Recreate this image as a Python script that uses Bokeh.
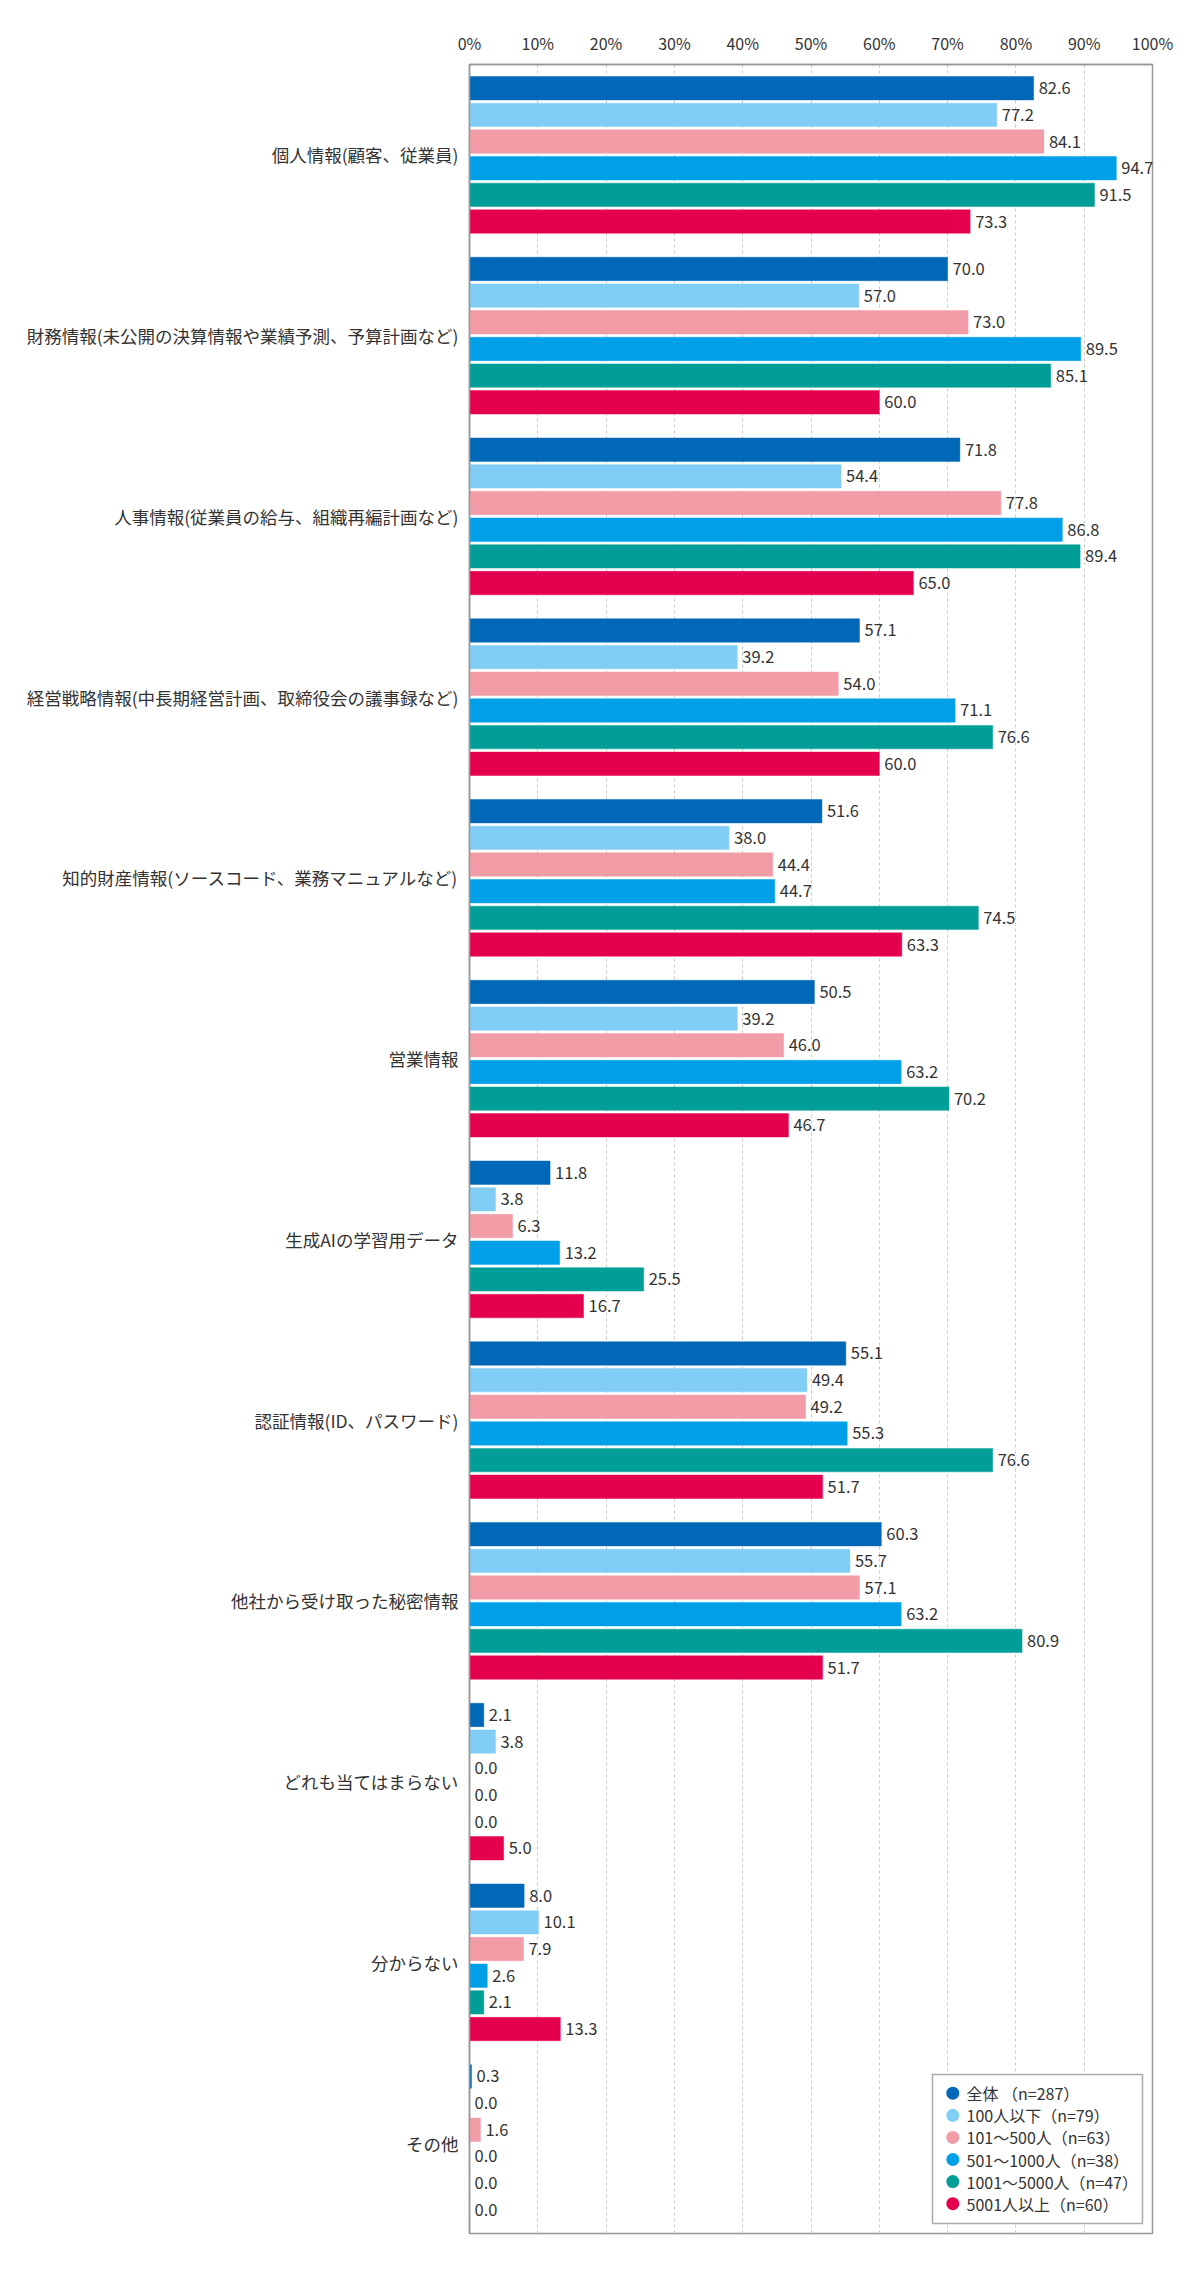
from bokeh.plotting import figure
from bokeh.models import ColumnDataSource, FixedTicker, Range1d, PrintfTickFormatter
from bokeh.core.properties import value
from bokeh.embed import file_html
from bokeh.resources import INLINE

# ---------------- data ----------------
categories = [
    "個人情報(顧客、従業員)",
    "財務情報(未公開の決算情報や業績予測、予算計画など)",
    "人事情報(従業員の給与、組織再編計画など)",
    "経営戦略情報(中長期経営計画、取締役会の議事録など)",
    "知的財産情報(ソースコード、業務マニュアルなど)",
    "営業情報",
    "生成AIの学習用データ",
    "認証情報(ID、パスワード)",
    "他社から受け取った秘密情報",
    "どれも当てはまらない",
    "分からない",
    "その他",
]
series_names = [
    "全体 （n=287）",
    "100人以下（n=79）",
    "101～500人（n=63）",
    "501～1000人（n=38）",
    "1001～5000人（n=47）",
    "5001人以上（n=60）",
]
series_colors = ["#0068b7", "#80cdf5", "#f19ca7", "#00a0e9", "#009e96", "#e5004f"]

zentai     = [82.6, 70.0, 71.8, 57.1, 51.6, 50.5, 11.8, 55.1, 60.3, 2.1, 8.0, 0.3]
upto100    = [77.2, 57.0, 54.4, 39.2, 38.0, 39.2, 3.8, 49.4, 55.7, 3.8, 10.1, 0.0]
r101_500   = [84.1, 73.0, 77.8, 54.0, 44.4, 46.0, 6.3, 49.2, 57.1, 0.0, 7.9, 1.6]
r501_1000  = [94.7, 89.5, 86.8, 71.1, 44.7, 63.2, 13.2, 55.3, 63.2, 0.0, 2.6, 0.0]
r1001_5000 = [91.5, 85.1, 89.4, 76.6, 74.5, 70.2, 25.5, 76.6, 80.9, 0.0, 2.1, 0.0]
over5001   = [73.3, 60.0, 65.0, 60.0, 63.3, 46.7, 16.7, 51.7, 51.7, 5.0, 13.3, 0.0]
series_values = [zentai, upto100, r101_500, r501_1000, r1001_5000, over5001]

x_ticks = [0, 10, 20, 30, 40, 50, 60, 70, 80, 90, 100]

# ---------------- layout ----------------
FONT = "Noto Sans CJK JP"
W, H = 1192, 2271
ML, MR, MT, MB = 469, 40, 64, 38
FW = W - ML - MR
FH = H - MT - MB
n_cat = len(categories)
px_y = FH / n_cat            # pixels per group unit
px_x = FW / 100.0            # pixels per percent
pitch = 26.67 / px_y
bar_h = 23.4 / px_y

p = figure(width=W, height=H, output_backend="svg", toolbar_location=None,
           x_range=Range1d(0, 100), y_range=Range1d(n_cat, 0),
           x_axis_location="above", min_border_left=ML, min_border_right=MR,
           min_border_top=MT, min_border_bottom=MB)
p.outline_line_color = "#999999"
p.outline_line_width = 1.5
p.background_fill_color = "white"
p.border_fill_color = "white"

# x axis (top)
xa = p.xaxis[0]
xa.ticker = FixedTicker(ticks=x_ticks)
xa.formatter = PrintfTickFormatter(format="%d%%")
xa.major_tick_line_color = None
xa.minor_tick_line_color = None
xa.axis_line_color = "#999999"
xa.axis_line_width = 1.5
xa.major_label_text_font = FONT
xa.major_label_text_font_size = "16px"
xa.major_label_text_color = "#333333"
xa.major_label_standoff = 4

# y axis (categories)
ya = p.yaxis[0]
centers = [i + 0.5 for i in range(n_cat)]
ya.ticker = FixedTicker(ticks=centers)
ya.major_label_overrides = {c: lab for c, lab in zip(centers, categories)}
ya.major_tick_line_color = None
ya.minor_tick_line_color = None
ya.axis_line_color = "#999999"
ya.axis_line_width = 1.5
ya.major_label_text_font = FONT
ya.major_label_text_font_size = "17.5px"
ya.major_label_text_color = "#333333"
ya.major_label_standoff = 5

p.ygrid.visible = False
p.xgrid.ticker = FixedTicker(ticks=x_ticks)
p.xgrid.grid_line_color = "#c8c8c8"
p.xgrid.grid_line_dash = "3 3"
p.xgrid.grid_line_width = 1

# bars + value labels
for j, (vals, col) in enumerate(zip(series_values, series_colors)):
    ys = [i + 0.5 + (j - 2.5) * pitch for i in range(n_cat)]
    src = ColumnDataSource(dict(y=ys, v=vals, lab=[f"{v:.1f}" for v in vals]))
    p.hbar(y="y", left=0, right="v", height=bar_h, source=src,
           fill_color=col, line_color=col, line_alpha=0.45, line_width=1)
    p.text(x="v", y="y", text="lab", source=src, x_offset=5,
           text_font=value(FONT), text_font_size="16.5px", text_color="#333333",
           text_baseline="middle", text_align="left")

# legend (drawn manually inside the frame)
lx0 = (932 - ML) / px_x
lx1 = (1142 - ML) / px_x
ly0 = (2074 - MT) / px_y
ly1 = (2223 - MT) / px_y
p.quad(left=[lx0], right=[lx1], top=[ly0], bottom=[ly1],
       fill_color="white", line_color="#aaaaaa", line_width=1.5)
row0 = (2092.7 - MT) / px_y
row_step = 22.1 / px_y
mx = (952.3 - ML) / px_x
tx = (966 - ML) / px_x
leg = ColumnDataSource(dict(
    y=[row0 + k * row_step for k in range(len(series_names))],
    c=series_colors, t=series_names,
    x=[mx] * len(series_names), tx=[tx] * len(series_names)))
p.scatter(x="x", y="y", source=leg, size=13, fill_color="c", line_color=None, marker="circle")
p.text(x="tx", y="y", text="t", source=leg, text_font=value(FONT), text_font_size="16px",
       text_color="#333333", text_baseline="middle", text_align="left")

open("out.html", "w").write(file_html(p, INLINE))
